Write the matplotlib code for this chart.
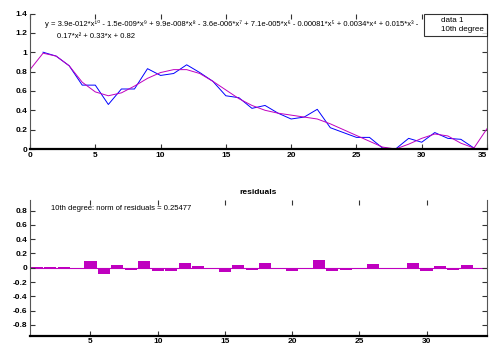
import matplotlib
matplotlib.use("Agg")
import matplotlib.pyplot as plt

# data
data_x = list(range(1, 35))
data_y = [1.00, 0.96, 0.86, 0.66, 0.66, 0.46, 0.62, 0.62, 0.83, 0.76,
          0.78, 0.87, 0.79, 0.70, 0.55, 0.53, 0.42, 0.45, 0.37, 0.31,
          0.33, 0.41, 0.22, 0.17, 0.12, 0.12, 0.01, 0.00, 0.11, 0.07,
          0.17, 0.11, 0.10, 0.01]

fit_x = list(range(0, 36))
fit_y = [0.82, 0.99, 0.96, 0.86, 0.69, 0.59, 0.55, 0.58, 0.65, 0.73,
         0.79, 0.82, 0.82, 0.78, 0.70, 0.61, 0.52, 0.45, 0.40, 0.37,
         0.35, 0.33, 0.31, 0.26, 0.20, 0.14, 0.08, 0.02, 0.00, 0.05,
         0.11, 0.155, 0.135, 0.06, 0.01, 0.21]

resid = [0.005, 0.004, 0.004, -0.02, 0.10, -0.085, 0.04, -0.03, 0.10, -0.04,
         -0.04, 0.065, 0.025, -0.005, -0.055, 0.035, -0.035, 0.065, -0.005, -0.04,
         -0.005, 0.105, -0.045, -0.035, -0.02, 0.05, -0.02, -0.005, 0.065, -0.045,
         0.025, -0.03, 0.04, -0.005]

top_xticks = [0, 5, 10, 15, 20, 25, 30, 35]
top_yticks = [0, 0.2, 0.4, 0.6, 0.8, 1, 1.2, 1.4]
top_ylabels = ["0", "0.2", "0.4", "0.6", "0.8", "1", "1.2", "1.4"]
bot_xticks = [5, 10, 15, 20, 25, 30]
bot_yticks = [-0.8, -0.6, -0.4, -0.2, 0, 0.2, 0.4, 0.6, 0.8]
bot_ylabels = ["-0.8", "-0.6", "-0.4", "-0.2", "0", "0.2", "0.4", "0.6", "0.8"]

eq_line1 = ("y = 3.9e-012*x¹⁰ - 1.5e-009*x⁹ + 9.9e-008*x⁸ - 3.6e-006*x⁷ + "
            "7.1e-005*x⁶ - 0.00081*x⁵ + 0.0034*x⁴ + 0.015*x³ -")
eq_line2 = "0.17*x² + 0.33*x + 0.82"
norm_text = "10th degree: norm of residuals = 0.25477"

BLUE = "#0000ff"
MAGENTA = "#bf00bf"
FAMILY = ["Liberation Sans", "DejaVu Sans"]
TICK_FONT = {"fontsize": 6, "fontweight": "bold", "family": FAMILY}


def style_axes(ax):
    ax.spines["top"].set_visible(False)
    ax.spines["left"].set_color("#555555")
    ax.spines["right"].set_color("#555555")
    ax.spines["left"].set_linewidth(0.8)
    ax.spines["right"].set_linewidth(0.8)
    ax.spines["bottom"].set_linewidth(1.6)
    ax.tick_params(direction="in", length=3.5, width=0.8, top=True, right=True,
                   labelright=False, pad=2, colors="#333333", labelcolor="black")


def main():
    fig = plt.figure(figsize=(4.9, 3.44), dpi=100)

    # upper plot: data and 10th degree fit
    ax1 = fig.add_axes([30 / 490, 1 - 149 / 344, 457 / 490, 135.5 / 344])
    ax1.plot(data_x, data_y, color=BLUE, lw=0.7, label="data 1")
    ax1.plot(fit_x, fit_y, color=MAGENTA, lw=0.7, label="10th degree")
    ax1.set_xlim(0, 35)
    ax1.set_ylim(0, 1.4)
    ax1.set_xticks(top_xticks)
    ax1.set_xticklabels([str(t) for t in top_xticks], **TICK_FONT)
    ax1.get_xticklabels()[-1].set_ha("right")
    ax1.set_yticks(top_yticks)
    ax1.set_yticklabels(top_ylabels, **TICK_FONT)
    style_axes(ax1)

    leg = ax1.legend(loc="upper right", handlelength=1.6, handletextpad=0.2,
                     frameon=True, fancybox=False, borderaxespad=0, borderpad=0.35,
                     labelspacing=0.15, prop={"family": FAMILY, "size": 5.8})
    leg.get_frame().set_edgecolor("black")
    leg.get_frame().set_linewidth(0.8)
    for h in leg.legend_handles:
        h.set_visible(False)

    fig.text(45 / 490, 1 - 24 / 344, eq_line1, fontsize=5.5, family=FAMILY,
             va="center", ha="left")
    fig.text(57 / 490, 1 - 36 / 344, eq_line2, fontsize=5.5, family=FAMILY,
             va="center", ha="left")

    # lower plot: residuals
    ax2 = fig.add_axes([30 / 490, 1 - 335.5 / 344, 457 / 490, 135.5 / 344])
    ax2.bar(data_x, resid, width=0.9, color=MAGENTA, edgecolor="none")
    ax2.axhline(0, color=MAGENTA, lw=0.8, zorder=0)
    ax2.set_xlim(0.5, 34.5)
    ax2.set_ylim(-0.95, 0.95)
    ax2.set_xticks(bot_xticks)
    ax2.set_xticklabels([str(t) for t in bot_xticks], **TICK_FONT)
    ax2.set_yticks(bot_yticks)
    ax2.set_yticklabels(bot_ylabels, **TICK_FONT)
    style_axes(ax2)
    ax2.set_title("residuals", fontsize=6, fontweight="bold", family=FAMILY, pad=4)
    ax2.text(0.045, 0.94, norm_text, transform=ax2.transAxes, fontsize=5.5,
             family=FAMILY, va="center", ha="left")

    fig.savefig("out.png", dpi=100)


if __name__ == "__main__":
    main()
